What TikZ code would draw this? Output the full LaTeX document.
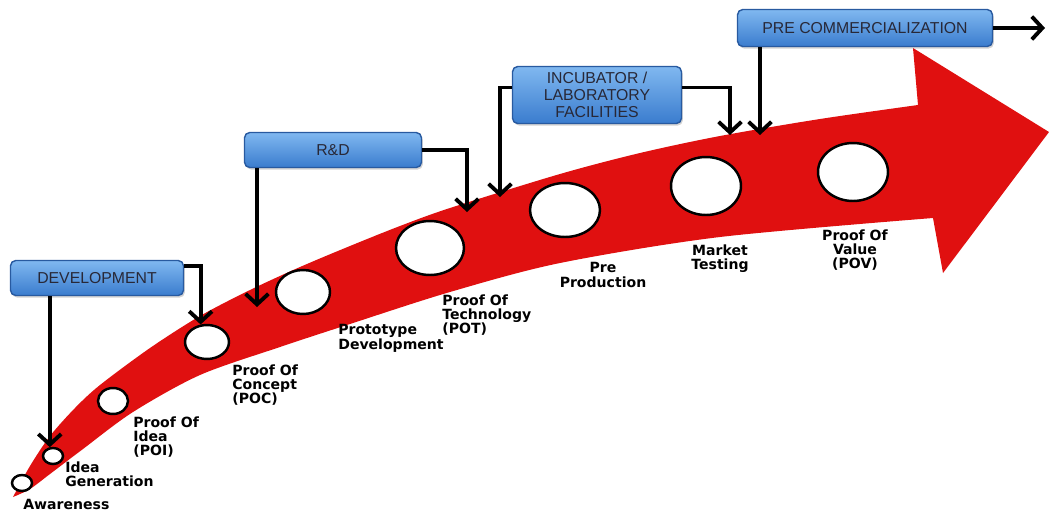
\documentclass[tikz,border=0pt]{standalone}
\usepackage{fontspec}
\setmainfont{DejaVu Sans}
\newfontfamily\boxfont{Liberation Sans}
\usetikzlibrary{arrows.meta,shapes.geometric,shadows}
\definecolor{bandred}{RGB}{224,16,16}
\definecolor{boxtop}{RGB}{128,184,240}
\definecolor{boxbot}{RGB}{58,124,206}
\definecolor{boxline}{RGB}{40,90,160}
\definecolor{boxtext}{RGB}{40,40,55}

\begin{document}
\begin{tikzpicture}[x=0.02cm, y=-0.02cm,
        stage/.style={ellipse, draw=black, line width=1.4pt, fill=white, inner sep=0pt},
        stagetext/.style={inner sep=0pt, align=left, font=\fontsize{8}{8.2}\selectfont\bfseries},
        phase/.style={rectangle, rounded corners=3pt, draw=boxline, line width=0.8pt, top color=boxtop, bottom color=boxbot,
            text=boxtext, align=center, font=\boxfont\fontsize{9}{9.6}\selectfont,
            drop shadow={opacity=0.35, shadow xshift=0.8pt, shadow yshift=-1.2pt}},
        arrow/.style={-{Straight Barb[length=6pt,width=13pt]}, line width=2.2pt}
    ]
        \useasboundingbox (0,0) rectangle (1049,511);

        % curved red arrow
        \fill[bandred] plot[smooth] coordinates {(13,497) (30,466) (50,436) (75,408) (100,385) (150,348) (200,316)
                (250,290) (300,267) (350,246) (400,226) (450,208) (560,174) (640,153) (720,136) (820,119) (918,105)}
            -- (913,48) -- (1049,132) -- (943,273) -- (933,218)
            -- plot[smooth] coordinates {(933,218) (720,237) (560,263) (450,292) (350,324) (280,347) (200,375)
                (133,412) (83,449) (50,474) (30,489) (13,497)} -- cycle;

        \node (aware) [stage, minimum width=0.40cm, minimum height=0.32cm] at (22,483) {};
        \node (idea) [stage, minimum width=0.40cm, minimum height=0.32cm] at (53,456) {};
        \node (poi) [stage, minimum width=0.60cm, minimum height=0.52cm] at (113,401) {};
        \node (poc) [stage, minimum width=0.88cm, minimum height=0.68cm] at (207,342) {};
        \node (proto) [stage, minimum width=1.08cm, minimum height=0.88cm] at (303,292) {};
        \node (pot) [stage, minimum width=1.36cm, minimum height=1.08cm] at (430,248) {};
        \node (preprod) [stage, minimum width=1.40cm, minimum height=1.08cm] at (565,210) {};
        \node (market) [stage, minimum width=1.40cm, minimum height=1.16cm] at (706,186) {};
        \node (pov) [stage, minimum width=1.40cm, minimum height=1.16cm] at (853,172) {};

        \node (awaretext) [stagetext, anchor=base west] at (23,509) {Awareness};
        \node (ideatext) [stagetext, anchor=north west] at (65,461) {Idea\\Generation};
        \node (poitext) [stagetext, anchor=north west] at (133,416) {Proof Of\\Idea\\(POI)};
        \node (poctext) [stagetext, anchor=north west] at (232,364) {Proof Of\\Concept\\(POC)};
        \node (prototext) [stagetext, anchor=north west] at (338,324) {Prototype\\Development};
        \node (pottext) [stagetext, anchor=north west] at (442,294) {Proof Of\\Technology\\(POT)};
        \node (preprodtext) [stagetext, align=center, anchor=north] at (603,262) {Pre\\Production};
        \node (markettext) [stagetext, align=center, anchor=north] at (720,244) {Market\\Testing};
        \node (povtext) [stagetext, align=center, anchor=north] at (855,229) {Proof Of\\Value\\(POV)};

        \node (dev) [phase, minimum width=3.46cm, minimum height=0.70cm] at (97,278) {DEVELOPMENT};
        \node (rnd) [phase, minimum width=3.54cm, minimum height=0.70cm] at (333,150) {R\&D};
        \node (incub) [phase, minimum width=3.38cm, minimum height=1.12cm] at (597,95) {INCUBATOR /\\LABORATORY\\FACILITIES};
        \node (precom) [phase, minimum width=5.10cm, minimum height=0.74cm] at (865,28) {PRE COMMERCIALIZATION};

        \coordinate (rndin) at (257,307);
        \coordinate (potin) at (467,212);
        \coordinate (incin) at (500,197);
        \coordinate (mktin) at (730,135);
        \coordinate (precin) at (760,135);
        \coordinate (out) at (1045,28);

        \draw[arrow] (dev.south -| idea.110) -- (idea.110);
        \draw[arrow] (dev.8) -| (poc.110);
        \draw[arrow] (rnd.south -| rndin) -- (rndin);
        \draw[arrow] (rnd.east) -| (potin);
        \draw[arrow] (incub.175) -| (incin);
        \draw[arrow] (incub.5) -| (mktin);
        \draw[arrow] (precom.south -| precin) -- (precin);
        \draw[arrow] (precom.east) -- (out);

    \end{tikzpicture}
\end{document}
